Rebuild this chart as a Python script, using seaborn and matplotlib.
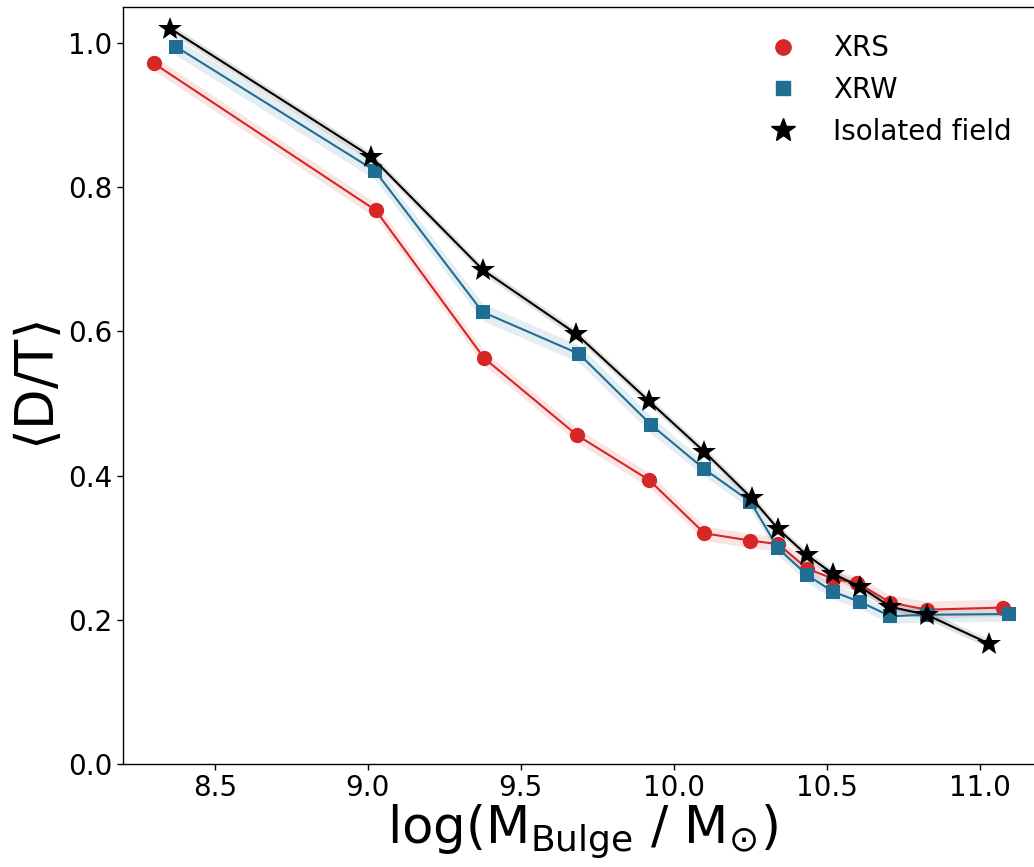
import numpy as np
import pandas as pd
import matplotlib
matplotlib.use("Agg")
import matplotlib.pyplot as plt
from matplotlib.lines import Line2D
import seaborn as sns

# ---- data ----
xrs_x = [8.30, 9.026, 9.38, 9.684, 9.919, 10.10, 10.248, 10.341, 10.436, 10.52, 10.60, 10.708, 10.826, 11.077]
xrs_y = [0.972, 0.768, 0.563, 0.456, 0.394, 0.320, 0.310, 0.305, 0.271, 0.257, 0.251, 0.224, 0.214, 0.217]
xrs_err = [0.010, 0.010, 0.010, 0.010, 0.010, 0.010, 0.010, 0.010, 0.010, 0.010, 0.010, 0.010, 0.012, 0.012]

xrw_x = [8.373, 9.023, 9.375, 9.69, 9.927, 10.10, 10.25, 10.341, 10.436, 10.52, 10.608, 10.708, 10.826, 11.096]
xrw_y = [0.995, 0.823, 0.627, 0.569, 0.470, 0.409, 0.364, 0.299, 0.262, 0.239, 0.225, 0.205, 0.207, 0.208]
xrw_err = [0.012, 0.012, 0.012, 0.012, 0.012, 0.010, 0.010, 0.010, 0.010, 0.010, 0.010, 0.010, 0.010, 0.010]

iso_x = [8.355, 9.012, 9.377, 9.68, 9.92, 10.10, 10.254, 10.341, 10.434, 10.52, 10.608, 10.708, 10.826, 11.03]
iso_y = [1.020, 0.842, 0.685, 0.597, 0.503, 0.433, 0.369, 0.326, 0.290, 0.264, 0.246, 0.218, 0.207, 0.167]
iso_err = [0.006, 0.006, 0.006, 0.006, 0.006, 0.006, 0.006, 0.006, 0.006, 0.006, 0.006, 0.006, 0.006, 0.006]

labels = ["XRS", "XRW", "Isolated field"]
colors = ["#d62728", "#216e93", "#000000"]
markers = ["o", "s", "*"]
msizes = [11, 10, 18]

sns.set_style("ticks")
plt.rcParams["font.family"] = ["DejaVu Sans"]
plt.rcParams["mathtext.fontset"] = "dejavusans"
for k in ["text.color", "axes.labelcolor", "xtick.color", "ytick.color", "axes.edgecolor"]:
    plt.rcParams[k] = "black"

fig = plt.figure(figsize=(10.34, 8.67), dpi=100)
ax = fig.add_axes([123 / 1034, 103 / 867, (1041 - 123) / 1034, (764 - 7) / 867])

series = [(xrs_x, xrs_y, xrs_err), (xrw_x, xrw_y, xrw_err), (iso_x, iso_y, iso_err)]
for (xs, ys, es), lab, col, mk, ms in zip(series, labels, colors, markers, msizes):
    df = pd.DataFrame({"x": xs, "y": ys})
    lo = np.array(ys) - np.array(es)
    hi = np.array(ys) + np.array(es)
    ax.fill_between(xs, lo, hi, color=col, alpha=0.12, linewidth=0, zorder=1)
    sns.lineplot(data=df, x="x", y="y", ax=ax, color=col, linewidth=1.5,
                 marker=mk, markersize=ms, markeredgewidth=0,
                 markeredgecolor=col, errorbar=None, sort=False, zorder=3)

ax.set_xlim(8.2, 11.2)
ax.set_ylim(0.0, 1.05)
ax.set_xticks([8.5, 9.0, 9.5, 10.0, 10.5, 11.0])
ax.set_yticks([0.0, 0.2, 0.4, 0.6, 0.8, 1.0])
ax.set_xticklabels(["8.5", "9.0", "9.5", "10.0", "10.5", "11.0"])
ax.set_yticklabels(["0.0", "0.2", "0.4", "0.6", "0.8", "1.0"])
ax.tick_params(axis="both", labelsize=20, length=4, width=1, direction="out",
               colors="black")

ax.set_xlabel(r"log(M$_{\rm Bulge}$ / M$_{\odot}$)", fontsize=37, labelpad=0)
ax.set_ylabel(r"$\langle$D/T$\rangle$", fontsize=38, labelpad=2)

for s in ax.spines.values():
    s.set_color("black")
    s.set_linewidth(1.0)

handles = [Line2D([], [], linestyle="none", marker=m, color=c, markersize=ms)
           for m, c, ms in zip(markers, colors, msizes)]
ax.legend(handles, labels, loc="upper right", bbox_to_anchor=(0.995, 0.997),
          frameon=False, fontsize=20, handletextpad=0.8, labelspacing=0.5)

fig.savefig("out.png", dpi=100)
